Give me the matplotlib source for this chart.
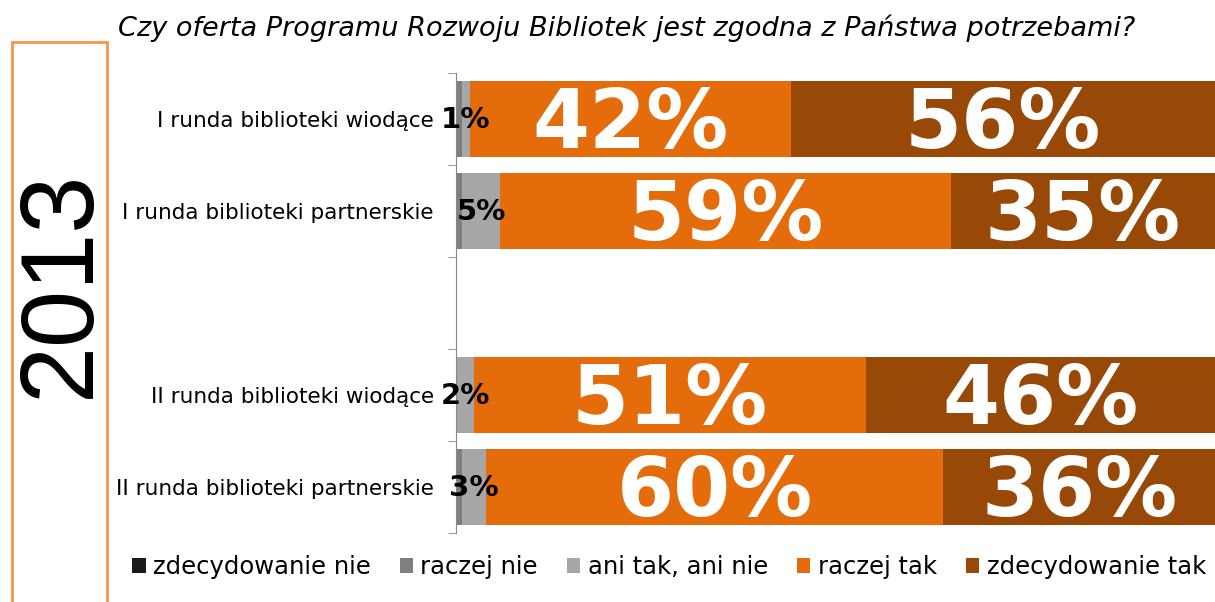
import matplotlib.pyplot as plt
from matplotlib.patches import Rectangle
import numpy as np

categories = ['I runda biblioteki wiodące', 'I runda biblioteki partnerskie', '',
              'II runda biblioteki wiodące', 'II runda biblioteki partnerskie']
series = ['zdecydowanie nie', 'raczej nie', 'ani tak, ani nie', 'raczej tak', 'zdecydowanie tak']
zdecydowanie_nie = [0, 0, 0, 0, 0]
raczej_nie = [0.8, 0.8, 0, 0, 0.8]
ani_tak_ani_nie = [1, 5, 0, 2.4, 3.2]
raczej_tak = [42.4, 59.4, 0, 51.6, 60.2]
zdecydowanie_tak = [55.8, 34.8, 0, 46, 35.8]
# labels as printed on the chart
ani_tak_labels = ['1%', '5%', '', '2%', '3%']
raczej_tak_labels = ['42%', '59%', '', '51%', '60%']
zdecydowanie_tak_labels = ['56%', '35%', '', '46%', '36%']
colors = ['#1a1a1a', '#7f7f7f', '#a6a6a6', '#e46c0a', '#984807']

values = [zdecydowanie_nie, raczej_nie, ani_tak_ani_nie, raczej_tak, zdecydowanie_tak]
seg_labels = {2: ani_tak_labels, 3: raczej_tak_labels, 4: zdecydowanie_tak_labels}

fig = plt.figure(figsize=[12.15, 6.02], dpi=100)
ax = fig.add_axes([456 / 1215, 1 - 533 / 602, 1 - 456 / 1215, (533 - 73) / 602])

y = np.arange(len(categories))
left = np.zeros(len(categories))
for k, (name, vals) in enumerate(zip(series, values)):
    vals = np.array(vals, dtype=float)
    ax.barh(y, vals, left=left, height=0.83, color=colors[k], label=name, edgecolor='none')
    if k in seg_labels:
        for i, v in enumerate(vals):
            txt = seg_labels[k][i]
            if not txt:
                continue
            if k == 2:
                ax.annotate(txt, (left[i] + v / 2, y[i]), xytext=(0, -1),
                            textcoords='offset points', ha='center', va='center',
                            color='black', fontsize=21, fontweight='bold')
            else:
                ax.annotate(txt, (left[i] + v / 2, y[i]), xytext=(0, -5),
                            textcoords='offset points', ha='center', va='center',
                            color='white', fontsize=59, fontweight='bold')
    left += vals

ax.set_xlim(0, 100)
ax.set_ylim(len(categories) - 0.5, -0.5)
ax.set_xticks([])
ax.set_yticks(np.arange(len(categories) + 1) - 0.5, minor=True)
ax.set_yticks(y)
ax.set_yticklabels(categories, fontsize=15.5)
ax.tick_params(axis='y', which='major', length=0, pad=16)
ax.tick_params(axis='y', which='minor', length=6, color='#888888')
for s in ['top', 'right', 'bottom']:
    ax.spines[s].set_visible(False)
ax.spines['left'].set_color('#888888')

fig.text(627 / 1215, 1 - 28 / 602, 'Czy oferta Programu Rozwoju Bibliotek jest zgodna z Państwa potrzebami?',
         ha='center', va='center', fontsize=19.5, style='italic')

handles, labels = ax.get_legend_handles_labels()
fig.legend(handles, labels, loc='center', bbox_to_anchor=(669 / 1215, 1 - 567 / 602), ncol=5,
           frameon=False, fontsize=17.5, handlelength=0.55, handleheight=0.55,
           handletextpad=0.3, columnspacing=1.2)

fig.patches.append(Rectangle((12 / 1215, -0.05), 95 / 1215, 1.05 - 42 / 602,
                             transform=fig.transFigure, fill=False,
                             edgecolor='#f79646', linewidth=2))
fig.text(62 / 1215, 1 - 284 / 602, '2013', rotation=90, ha='center', va='center',
         fontsize=74, family='Liberation Sans')

fig.savefig('out.png', dpi=100)
